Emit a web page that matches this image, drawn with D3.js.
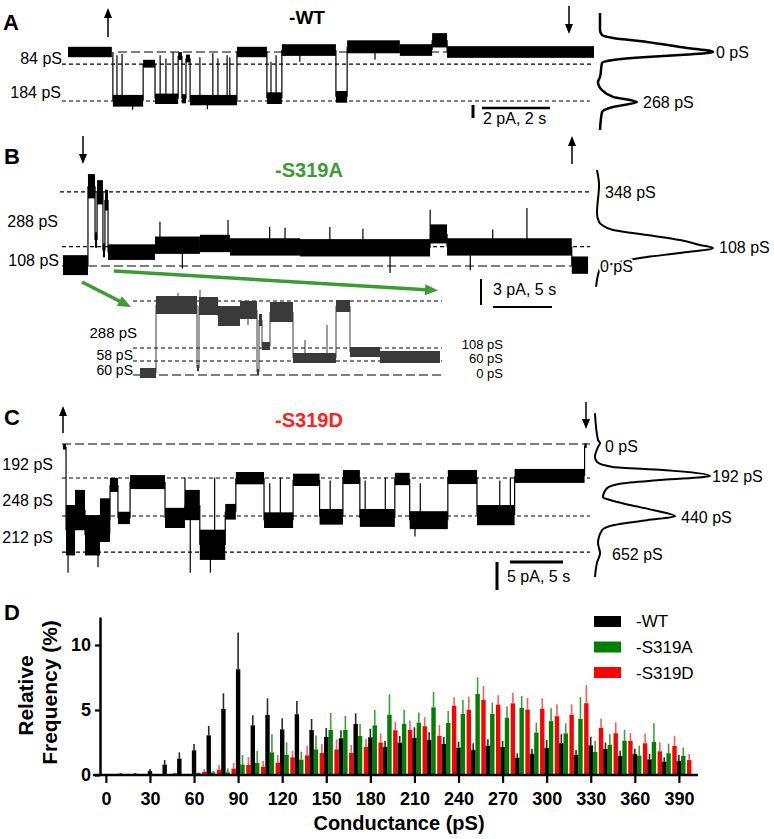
<!DOCTYPE html>
<html><head><meta charset="utf-8">
<script src="https://cdn.jsdelivr.net/npm/d3@7"></script>
<style>body{margin:0;background:#fff} text{font-family:"Liberation Sans",Arial,Helvetica,sans-serif}</style>
</head><body><svg id="c" width="774" height="839"></svg>
<script>
// ===================== Panel D data (Relative frequency %, per 10 pS bin) =====================
const conductance = [0,10,20,30,40,50,60,70,80,90,100,110,120,130,140,150,160,170,180,190,200,
  210,220,230,240,250,260,270,280,290,300,310,320,330,340,350,360,370,380,390,400];
const wtMean = [0.05,0.1,0.1,0.3,0.8,1.26,1.9,3.05,5.08,8.13,3.82,4.62,3.51,4.67,3.46,2.92,2.82,3.92,2.9,2.15,2.49,
  2.86,2.69,2.38,2.1,1.92,2.26,2.15,1.33,1.62,2.08,2.44,1.56,2.28,2.0,1.46,1.62,1.2,1.03,1.08,0];
const wtErr = [0.02,0.05,0.05,0.16,0.35,0.48,0.48,0.72,1.2,2.82,0.77,1.28,0.85,1.02,0.85,0.7,0.62,0.82,0.66,0.47,0.51,
  0.81,0.59,0.57,0.46,0.52,0.48,0.47,0.34,0.38,0.61,0.7,0.36,0.67,0.5,0.41,0.4,0.42,0.33,0.46,0];
const s319aMean = [0,0,0,0,0,0,0.15,0.2,0.2,0.8,0.92,1.74,1.56,1.18,1.97,3.46,3.46,3.0,3.82,4.64,3.92,
  4.03,5.2,4.0,4.69,6.23,4.69,4.41,5.15,3.26,4.14,3.2,4.31,1.77,2.31,2.64,1.49,2.54,1.67,1.47,0];
const s319aErr = [0,0,0,0,0,0,0.05,0.1,0.3,0.74,0.93,1.39,0.95,0.61,1.06,1.31,1.08,0.92,1.18,1.56,1.08,
  0.77,1.18,0.92,1.08,1.28,0.89,0.85,0.93,0.77,0.99,0.77,1.67,0.85,0.82,0.82,0.77,1.43,0.74,0.65,0];
const s319dMean = [0,0,0,0,0,0.13,0.05,0.23,0.41,0.49,0.77,0.64,0.95,1.36,1.51,1.69,1.97,1.69,2.15,2.49,3.44,
  3.46,3.75,3.01,5.33,5.0,5.77,5.41,5.51,5.03,5.09,4.52,4.63,5.52,3.63,3.21,2.62,2.44,1.82,2.23,1.15];
const s319dErr = [0,0,0,0,0,0.05,0,0.23,0.36,0.43,0.61,0.44,0.59,0.51,0.72,0.69,0.77,0.62,0.64,0.71,0.66,
  0.74,0.7,0.84,0.64,1.03,1.08,0.72,0.82,0.9,0.81,0.92,0.81,1.39,0.7,0.84,0.6,0.76,0.7,0.78,0.47];
const xTicksD = [0,30,60,90,120,150,180,210,240,270,300,330,360,390];
const yTicksD = [0,5,10];
const seriesNames = ["-WT","-S319A","-S319D"];

// ===================== Panel A trace (time s, current pA) =====================
// [t0, t1, level, noise half-width]
const traceA = [[0,1.29,0,0.8],[1.32,2.21,7.5,0.9],[2.21,2.56,1.8,0.6],[2.56,3.24,7.2,0.8],[3.24,3.35,0.6,0.6],
  [3.35,3.47,7.2,0.7],[3.47,3.59,1.0,0.6],[3.59,4.97,7.4,0.8],[4.97,5.85,0,0.8],[5.85,6.29,7.1,0.9],
  [6.29,7.88,-0.3,0.9],[7.88,8.21,6.9,0.9],[8.21,9.76,-0.8,1.0],[9.76,10.71,-0.3,0.9],[10.71,11.15,-1.8,1.1],
  [11.15,15.47,0,0.9]];
const spikesA = [[1.44,0.5],[1.59,0.3],[2.71,0.5],[2.88,1.0],[3.09,0],[3.88,0.8],[4.26,0.2],[4.41,1.0],
  [4.68,0.5],[4.76,0.8],[5.97,1.5],[6.12,0.5],[6.82,1.5],[9.03,1.2],[1.9,8.9],[4.1,8.8]];
const levelsA = [0,1.85,7.54];
// amplitude histogram [current pA, relative count]
const histA = [[-6,0],[-3.4,0],[-2.6,1.8],[-2.15,11.5],[-1.54,41.6],[-0.77,70.8],[0,100],[0.46,70.8],[0.77,41.6],
  [1.23,11.5],[1.69,1.8],[3.85,0],[4.6,-1.8],[5.85,1.8],[6.9,11.5],[7.7,32.7],[8.46,11.5],[9.23,1.8],[12,0]];

// ===================== Panel B trace =====================
const traceB = [[0.08,2.2,0.1,1.15],[2.2,2.8,9.2,1.4],[2.8,2.97,3.0,0.9],[2.97,3.47,8.5,1.4],[3.47,3.64,1.8,0.8],
  [3.64,3.9,7.6,1.2],[3.9,7.88,1.6,0.9],[7.88,11.69,2.4,1.0],[11.69,14.24,2.6,1.0],[14.24,20.17,2.2,1.0],
  [20.17,31.19,2.1,1.0],[31.19,32.63,3.7,1.1],[32.63,43.2,2.2,1.0],[43.2,44.58,0.1,1.0]];
const spikesB = [[8.3,5.1],[14.07,5.3],[17.6,4.5],[18.9,4.4],[22.7,4.5],[31.2,6.5],[39.4,6.7],
  [10.2,-0.3],[27.8,-0.8],[34.6,-0.5],[25.5,4.3],[36.5,4.2]];
const levelsB = [8.54,2.23,0];
const histB = [[11.07,-0.9],[9.34,0.9],[6.1,-0.9],[5.07,0.9],[4.73,3.5],[4.15,13],[3.58,42.6],[3.0,71.3],
  [2.42,88.7],[2.08,100],[1.5,71.3],[1.04,42.6],[0.87,33.9],[0.35,15],[-0.23,2],[-1.04,0],[-2.42,-1.7]];
// inset (expanded) trace
const traceBin = [[0.7,2.3,0.2,0.5],[2.3,6.4,7.0,0.9],[6.4,6.6,0.7,0.3],[6.6,8.5,6.9,0.9],[8.5,10.7,5.9,1.0],
  [10.7,12.4,6.5,0.9],[12.4,12.6,0.3,0.3],[12.6,12.9,5.5,0.6],[12.9,13.7,2.9,0.4],[13.7,16.0,6.3,1.0],
  [16.0,20.3,1.7,0.5],[20.3,21.7,6.9,0.6],[21.7,24.7,2.3,0.5],[24.7,30.7,1.8,0.6]];
const spikesBin = [[6.7,8.5],[19.4,5.0],[17.2,3.5],[4.5,8.2],[11.5,5.0]];
const levelsBin = [7.4,2.7,1.4,0];

// ===================== Panel C trace =====================
const traceC = [[0.1,0.38,0.5,0.5],[0.38,1.23,15.4,4.5],[1.23,2.17,11.8,3.6],[2.17,3.58,16.3,3.6],[3.58,4.53,13.6,3.9],
  [4.53,5.28,7.3,1.25],[5.28,6.42,13.2,1.1],[6.42,9.72,6.8,1.25],[9.72,11.6,13.2,1.8],[11.6,13.0,10.9,2.7],
  [13.0,15.4,18.0,2.7],[15.4,16.4,12.1,1.4],[16.4,19.06,6.1,1.1],[19.06,21.8,13.6,1.4],[21.8,24.3,6.4,1.1],
  [24.3,26.5,13.0,1.4],[26.5,28.1,5.9,1.25],[28.1,31.4,13.2,1.6],[31.4,32.8,6.25,1.1],[32.8,36.4,13.6,1.6],
  [36.4,39.15,5.9,1.25],[39.15,42.7,12.7,1.8],[42.7,49.3,5.7,1.25],[49.3,49.5,0.3,0.4]];
const spikesC = [[0.57,23],[3.4,22],[4.5,16],[12.1,23],[11.6,6.0],[14.0,23],[14.4,6],[19.6,7],[20.6,6],
  [25.3,6.5],[28.6,6.5],[30.5,6],[33.8,7],[41.3,6.5],[42.3,6],[33.3,16.5]];
const levelsC = [0,6.07,12.86,19.3];
const histC = [[-5.5,-1.8],[-0.7,0.9],[-0.18,2.7],[0.54,0.9],[2.3,-1.8],[3.2,0],[4.1,14],[4.64,58.4],[5.7,100],
  [6.4,58.4],[7.1,20.4],[7.9,8.8],[9.5,5.3],[10.0,11.5],[10.9,29.2],[11.8,49.6],[12.9,69],[13.6,44.2],
  [14.5,14.2],[15.4,4.4],[17.7,0.9],[19.5,2.7],[21.2,0],[23.75,-1.8]];

// ===================== helpers =====================
const svg = d3.select('#c');
const GREEN = '#3d9b35', RED = '#ff2020';

function txt(x, y, s, o = {}) {
  const t = svg.append('text').attr('x', x).attr('y', y).text(s)
    .attr('font-size', o.size || 16).attr('font-weight', o.weight || 'normal')
    .attr('text-anchor', o.anchor || 'start').attr('fill', o.fill || '#000');
  if (o.halo) t.attr('stroke', '#fff').attr('stroke-width', 4).attr('paint-order', 'stroke');
  return t;
}
function dashed(ys, level, x0, x1, long) {
  svg.append('line').attr('x1', x0).attr('x2', x1).attr('y1', ys(level)).attr('y2', ys(level))
    .attr('stroke', '#000').attr('stroke-width', 1.2).attr('stroke-dasharray', long ? '9,4' : '4,3');
}
function trace(segs, spikes, xs, ys, fill, lw) {
  const g = svg.append('g');
  const conn = [];
  for (let i = 1; i < segs.length; i++) conn.push([segs[i][0], segs[i - 1][2], segs[i][2]]);
  g.selectAll(null).data(conn).join('line')
    .attr('x1', d => xs(d[0])).attr('x2', d => xs(d[0]))
    .attr('y1', d => ys(d[1])).attr('y2', d => ys(d[2]))
    .attr('stroke', fill).attr('stroke-width', lw);
  g.selectAll(null).data(segs).join('rect')
    .attr('x', d => xs(d[0])).attr('width', d => Math.max(0.8, xs(d[1]) - xs(d[0])))
    .attr('y', d => Math.min(ys(d[2] - d[3]), ys(d[2] + d[3])))
    .attr('height', d => Math.abs(ys(d[2] + d[3]) - ys(d[2] - d[3])))
    .attr('fill', fill);
  g.selectAll(null).data(spikes).join('line')
    .attr('x1', d => xs(d[0])).attr('x2', d => xs(d[0]))
    .attr('y1', d => { const s = segs.find(s => d[0] >= s[0] && d[0] <= s[1]); return ys(s ? s[2] : 0); })
    .attr('y2', d => ys(d[1])).attr('stroke', fill).attr('stroke-width', lw);
}
function hist(pts, hx, ys, sw) {
  svg.append('path').datum(pts)
    .attr('d', d3.line().x(d => hx(d[1])).y(d => ys(d[0])).curve(d3.curveMonotoneY))
    .attr('fill', 'none').attr('stroke', '#000').attr('stroke-width', sw).attr('stroke-linejoin', 'round');
}
function arrow(x0, y0, x1, y1, color, w, hl, hw) {
  const a = Math.atan2(y1 - y0, x1 - x0), c = Math.cos(a), s = Math.sin(a);
  const bx = x1 - hl * c, by = y1 - hl * s;
  svg.append('line').attr('x1', x0).attr('y1', y0).attr('x2', bx + c).attr('y2', by + s)
    .attr('stroke', color).attr('stroke-width', w);
  svg.append('path').attr('d', `M${x1},${y1}L${bx - hw * s},${by + hw * c}L${bx + hw * s},${by - hw * c}Z`)
    .attr('fill', color);
}
function scaleBar(xs, xv, yv0, yv1, xh0, yh, tSpan, yw, hw) {
  svg.append('line').attr('x1', xv).attr('x2', xv).attr('y1', yv0).attr('y2', yv1)
    .attr('stroke', '#000').attr('stroke-width', yw);
  svg.append('line').attr('x1', xh0).attr('x2', xh0 + xs(tSpan) - xs(0)).attr('y1', yh).attr('y2', yh)
    .attr('stroke', '#000').attr('stroke-width', hw);
}

// ===================== Panel A =====================
const xA = d3.scaleLinear().domain([0, 15.5]).range([68, 595]);
const yA = d3.scaleLinear().domain([0, 8]).range([52, 104]);
txt(3, 30, 'A', { size: 22, weight: 'bold' });
txt(307, 24, '-WT', { size: 19, weight: 'bold', anchor: 'middle' });
dashed(yA, levelsA[0], 118, 594, true);
dashed(yA, levelsA[1], 62, 594, false);
dashed(yA, levelsA[2], 62, 590, false);
trace(traceA, spikesA, xA, yA, '#000', 1.2);
txt(62, 64, '84 pS', { anchor: 'end' });
txt(61, 97.5, '184 pS', { anchor: 'end' });
hist(histA, d3.scaleLinear().domain([0, 100]).range([600, 713]), yA, 2.5);
txt(716, 58, '0 pS');
txt(643, 108, '268 pS');
arrow(108, 37, 108, 8, '#000', 1.5, 10, 4);
arrow(569, 6, 569, 34, '#000', 1.5, 10, 4);
scaleBar(xA, 473, 105, 105 + (yA(2) - yA(0)), 482, 108, 2, 3, 2.5);
txt(483, 124, '2 pA, 2 s');

// ===================== Panel B =====================
const xB = d3.scaleLinear().domain([0, 44.6]).range([62, 588.3]);
const yB = d3.scaleLinear().domain([0, 10]).range([266, 179.3]);
txt(4, 163.5, 'B', { size: 22, weight: 'bold' });
txt(309, 177, '-S319A', { size: 20, weight: 'bold', anchor: 'middle', fill: GREEN });
dashed(yB, levelsB[0], 60, 590, false);
dashed(yB, levelsB[1], 62, 590, false);
dashed(yB, levelsB[2], 62, 588, true);
trace(traceB, spikesB, xB, yB, '#000', 1.2);
txt(58, 227, '288 pS', { anchor: 'end' });
txt(59, 265.5, '108 pS', { anchor: 'end' });
hist(histB, d3.scaleLinear().domain([0, 100]).range([598, 713]), yB, 2);
txt(605, 198, '348 pS');
txt(719, 253, '108 pS');
txt(600, 272, '0 pS', { halo: true });
arrow(83, 136, 83, 164, '#000', 1.5, 10, 4);
arrow(572, 164, 572, 136, '#000', 1.5, 10, 4);
scaleBar(xB, 481, 279, 279 + (yB(0) - yB(3)), 493, 307, 5, 2, 2);
txt(493, 295, '3 pA, 5 s');
// green zoom arrows
arrow(114, 271, 438, 290.5, GREEN, 3.5, 13, 5.5);
arrow(82, 282, 131, 307, GREEN, 3.5, 13, 5.5);
// inset
const xBi = d3.scaleLinear().domain([0, 31]).range([133, 443]);
const yBi = d3.scaleLinear().domain([0, 8]).range([375, 295]);
dashed(yBi, levelsBin[0], 133, 442, false);
dashed(yBi, levelsBin[1], 133, 442, false);
dashed(yBi, levelsBin[2], 133, 442, false);
dashed(yBi, levelsBin[3], 133, 445, true);
trace(traceBin, spikesBin, xBi, yBi, '#3a3a3a', 1);
txt(137, 338, '288 pS', { anchor: 'end', size: 15 });
txt(133, 360, '58 pS', { anchor: 'end', size: 14 });
txt(133, 374.5, '60 pS', { anchor: 'end', size: 14 });
txt(503, 348.5, '108 pS', { anchor: 'end', size: 13 });
txt(503, 363, '60 pS', { anchor: 'end', size: 13 });
txt(503, 377.5, '0 pS', { anchor: 'end', size: 13 });

// ===================== Panel C =====================
const xC = d3.scaleLinear().domain([0, 50]).range([62, 592]);
const yC = d3.scaleLinear().domain([0, 25]).range([444, 584]);
txt(4, 425, 'C', { size: 22, weight: 'bold' });
txt(309, 427, '-S319D', { size: 20, weight: 'bold', anchor: 'middle', fill: RED });
dashed(yC, levelsC[0], 62, 590, true);
dashed(yC, levelsC[1], 62, 590, false);
dashed(yC, levelsC[2], 62, 590, false);
dashed(yC, levelsC[3], 62, 590, false);
trace(traceC, spikesC, xC, yC, '#000', 1.2);
txt(53, 469.5, '192 pS', { anchor: 'end' });
txt(53, 506, '248 pS', { anchor: 'end' });
txt(53, 543, '212 pS', { anchor: 'end' });
hist(histC, d3.scaleLinear().domain([0, 100]).range([597, 710]), yC, 2);
txt(605, 452, '0 pS');
txt(712, 482, '192 pS');
txt(681, 523, '440 pS');
txt(612, 560, '652 pS');
arrow(63, 433, 63, 406, '#000', 1.5, 10, 4);
arrow(586, 402, 586, 429, '#000', 1.5, 10, 4);
scaleBar(xC, 497, 562, 562 + (yC(5) - yC(0)), 510, 562, 5, 3, 3);
txt(507, 582, '5 pA, 5 s');

// ===================== Panel D =====================
const xD = d3.scaleLinear().domain([-4, 403]).range([100, 698]);
const yD = d3.scaleLinear().domain([0, 12.15]).range([775, 617]);
const bw = xD(3) - xD(0);
txt(4, 620, 'D', { size: 22, weight: 'bold' });

const series = [
  { name: seriesNames[2], mean: s319dMean, err: s319dErr, color: '#ff0000', ecol: '#ff5c5c', off: -1 },
  { name: seriesNames[1], mean: s319aMean, err: s319aErr, color: '#008000', ecol: '#3aa23a', off: 1 },
  { name: seriesNames[0], mean: wtMean, err: wtErr, color: '#000000', ecol: '#2a2a2a', off: 0 }
];
const gD = svg.append('g');
series.forEach(s => {
  const rows = conductance.map((c, i) => ({ c, m: s.mean[i], e: s.err[i] })).filter(d => d.m > 0);
  gD.selectAll(null).data(rows).join('line')
    .attr('x1', d => xD(d.c) + s.off * bw).attr('x2', d => xD(d.c) + s.off * bw)
    .attr('y1', d => yD(d.m)).attr('y2', d => yD(d.m + d.e))
    .attr('stroke', s.ecol).attr('stroke-width', 1.6);
  gD.selectAll(null).data(rows).join('rect')
    .attr('x', d => xD(d.c) + s.off * bw - bw / 2).attr('width', bw)
    .attr('y', d => yD(d.m)).attr('height', d => yD(0) - yD(d.m))
    .attr('fill', s.color);
});

const axX = svg.append('g').attr('transform', `translate(0,${yD(0)})`)
  .call(d3.axisBottom(xD).tickValues(xTicksD).tickSize(8).tickSizeOuter(0).tickPadding(9));
const axY = svg.append('g').attr('transform', `translate(${xD(-4)},0)`)
  .call(d3.axisLeft(yD).tickValues(yTicksD).tickSize(5).tickSizeOuter(0).tickPadding(4));
[axX, axY].forEach(a => {
  a.select('.domain').attr('stroke-width', 2.5).attr('stroke', '#000');
  a.selectAll('.tick line').attr('stroke-width', 2.2).attr('stroke', '#000');
  a.selectAll('.tick text').attr('font-size', 18).attr('font-weight', 'bold')
    .attr('font-family', '"Liberation Sans", Arial, sans-serif').attr('fill', '#000');
});
axX.select('.domain').attr('d', `M${xD(-4) - 7},0H${xD(403)}`);

svg.append('text').attr('transform', 'translate(33,695.5) rotate(-90)').attr('text-anchor', 'middle')
  .attr('font-size', 21).attr('font-weight', 'bold').text('Relative');
svg.append('text').attr('transform', 'translate(57,692.5) rotate(-90)').attr('text-anchor', 'middle')
  .attr('font-size', 21).attr('font-weight', 'bold').text('Frequency (%)');
svg.append('text').attr('x', (xD(-4) + xD(403)) / 2).attr('y', 830).attr('text-anchor', 'middle')
  .attr('font-size', 20).attr('font-weight', 'bold').text('Conductance (pS)');

// legend
const legendRows = [series[2], series[1], series[0]];
legendRows.forEach((s, i) => {
  const y = [616, 641.5, 667][i];
  svg.append('rect').attr('x', 594).attr('y', y).attr('width', 27).attr('height', 11).attr('fill', s.color);
  txt(636, [627, 653, 679][i], s.name, { size: 17 });
});
</script></body></html>
